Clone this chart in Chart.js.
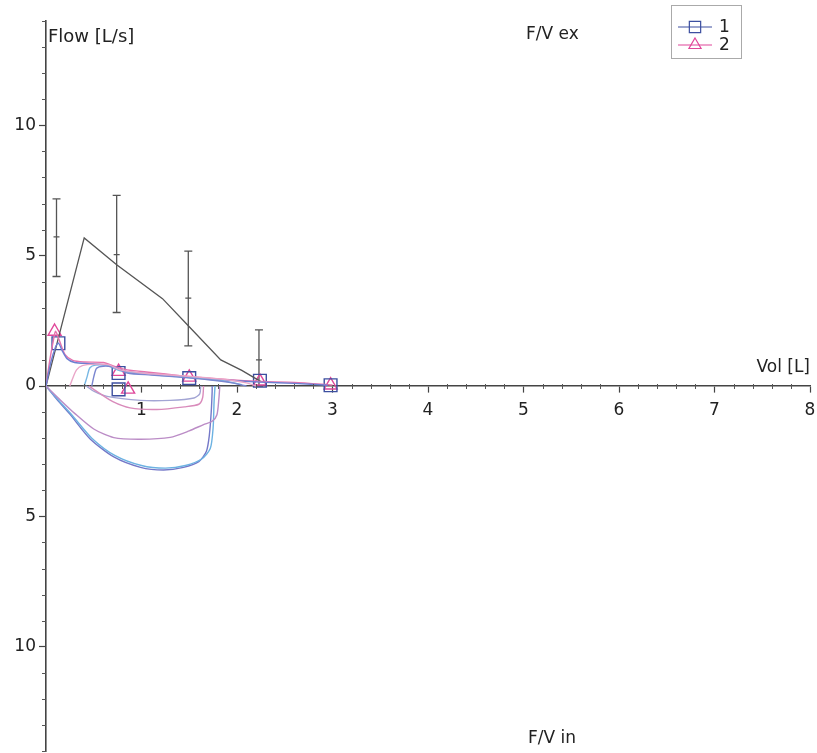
<!DOCTYPE html>
<html>
<head>
<meta charset="utf-8">
<script src="https://cdn.jsdelivr.net/npm/chart.js@4.4.1/dist/chart.umd.min.js"></script>
<style>
  html, body { margin: 0; padding: 0; background: #fff; }
  #fv { display: block; }
</style>
</head>
<body>
<canvas id="fv" width="817" height="753"></canvas>
<script>
// axis ticks
const xTicks = [1, 2, 3, 4, 5, 6, 7, 8];
const yTicks = [-10, -5, 0, 5, 10];

// predicted curve (black)
const predVol  = [0, 0.40, 0.74, 1.22, 1.48, 1.83, 2.05, 2.25];
const predFlow = [0, 5.68, 4.65, 3.35, 2.35, 1.00, 0.60, 0.17];

// predicted ranges (error bars)
const errVol  = [0.11, 0.74, 1.49, 2.23];
const errLow  = [4.20, 2.82, 1.54, 0.00];
const errMid  = [5.72, 5.04, 3.37, 1.00];
const errHigh = [7.18, 7.31, 5.17, 2.15];

// measured expiratory curves [vol, flow]
const ex1 = [[0,0],[0.05,0.9],[0.1,1.5],[0.13,1.65],[0.17,1.35],[0.22,1.05],[0.3,0.9],[0.45,0.86],[0.6,0.82],[0.72,0.68],[0.85,0.55],[1.1,0.46],[1.4,0.36],[1.7,0.27],[2.0,0.2],[2.25,0.15],[2.6,0.1],[2.95,0.03]];
const ex2 = [[0,0],[0.04,1.0],[0.08,1.8],[0.1,2.1],[0.14,1.75],[0.2,1.2],[0.28,0.98],[0.4,0.92],[0.6,0.9],[0.72,0.75],[0.85,0.62],[1.1,0.52],[1.4,0.4],[1.7,0.3],[2.0,0.22],[2.25,0.17],[2.6,0.14],[3.0,0.04]];
const ex3 = [[0.25,0],[0.28,0.3],[0.32,0.62],[0.38,0.78],[0.5,0.84],[0.65,0.82],[0.78,0.62],[1.0,0.5],[1.3,0.42],[1.6,0.34],[1.9,0.24],[2.1,0.12],[2.2,0]];
const ex4 = [[0.4,0],[0.43,0.35],[0.46,0.7],[0.52,0.8],[0.65,0.78],[0.78,0.58],[1.0,0.48],[1.3,0.38],[1.6,0.3],[1.85,0.2],[2.05,0.05]];
const ex5 = [[0.48,0],[0.5,0.35],[0.53,0.68],[0.6,0.76],[0.72,0.72],[0.85,0.5],[1.1,0.42],[1.4,0.34],[1.7,0.24],[1.95,0.12],[2.1,0]];

// measured inspiratory curves
const in1  = [[0,0],[0.1,-0.45],[0.25,-1.08],[0.46,-2.02],[0.71,-2.72],[0.99,-3.12],[1.23,-3.22],[1.44,-3.12],[1.6,-2.9],[1.68,-2.5],[1.71,-1.9],[1.73,-1.0],[1.74,-0.2],[1.74,0]];
const in1b = [[0,0],[0.12,-0.5],[0.28,-1.15],[0.48,-2.0],[0.72,-2.66],[1.0,-3.05],[1.25,-3.15],[1.46,-3.05],[1.63,-2.8],[1.72,-2.4],[1.75,-1.6],[1.76,-0.6],[1.77,0]];
const in2  = [[0,0],[0.14,-0.5],[0.3,-1.05],[0.5,-1.65],[0.71,-1.98],[0.99,-2.04],[1.3,-1.97],[1.5,-1.72],[1.65,-1.48],[1.74,-1.35],[1.79,-1.1],[1.81,-0.5],[1.82,0]];
const in3  = [[0.42,0],[0.5,-0.2],[0.64,-0.4],[0.99,-0.55],[1.3,-0.55],[1.55,-0.46],[1.61,-0.3],[1.62,0]];
const in4  = [[0.45,0],[0.55,-0.25],[0.7,-0.6],[0.88,-0.84],[1.16,-0.9],[1.45,-0.8],[1.6,-0.7],[1.64,-0.45],[1.65,0]];

// markers of trial 1 (squares) and trial 2 (triangles)
const sqVol   = [0.13, 0.76, 1.50, 2.24, 2.98, 0.76];
const sqFlow  = [1.64, 0.50, 0.30, 0.20, 0.03, -0.13];
const triVol  = [0.09, 0.76, 1.50, 2.24, 2.98, 0.86];
const triFlow = [2.09, 0.55, 0.33, 0.18, 0.03, -0.13];

const seriesNames = ['1', '2'];

const FONT = '"DejaVu Sans", Verdana, sans-serif';
const BLUE = '#3c4fa0';
const PINK = '#e0479a';

const pts = arr => arr.map(p => ({ x: p[0], y: p[1] }));
const zip = (xs, ys) => xs.map((x, i) => ({ x, y: ys[i] }));

function curve(data, color) {
  return {
    data: pts(data), showLine: true, borderColor: color, borderWidth: 1.4,
    pointRadius: 0, tension: 0.25, fill: false
  };
}

const datasets = [
  curve(in2, '#bb8cc6'),
  curve(in4, '#d98bbb'),
  curve(in3, '#a3a5d4'),
  curve(in1b, '#6cb2e2'),
  curve(in1, '#7478c8'),
  curve(ex3, '#eaa6c8'),
  curve(ex5, '#7a86d0'),
  curve(ex4, '#78b8e4'),
  curve(ex1, '#6d7fd2'),
  curve(ex2, '#e673ad'),
  {
    data: zip(predVol, predFlow), showLine: true, borderColor: '#555',
    borderWidth: 1.3, pointRadius: 0, tension: 0, fill: false
  },
  {
    data: zip(sqVol, sqFlow), showLine: false, pointStyle: 'rect', pointRadius: 9,
    pointBorderColor: BLUE, pointBackgroundColor: 'rgba(255,255,255,0)', pointBorderWidth: 1.4
  },
  {
    data: zip(triVol, triFlow), showLine: false, pointStyle: 'triangle', pointRadius: 7.5,
    pointBorderColor: PINK, pointBackgroundColor: 'rgba(255,255,255,0)', pointBorderWidth: 1.4
  }
];

const zeroPad = s => { s.paddingLeft = 0; s.paddingRight = 0; s.paddingTop = 0; s.paddingBottom = 0; };

const overlay = {
  id: 'overlay',
  beforeDatasetsDraw(chart) {
    const { ctx, scales: { x, y } } = chart;
    ctx.save();
    ctx.strokeStyle = '#555';
    ctx.lineWidth = 1.3;
    errVol.forEach((v, i) => {
      const px = x.getPixelForValue(v);
      const lo = y.getPixelForValue(errLow[i]);
      const hi = y.getPixelForValue(errHigh[i]);
      const md = y.getPixelForValue(errMid[i]);
      ctx.beginPath();
      ctx.moveTo(px, lo); ctx.lineTo(px, hi);
      ctx.moveTo(px - 4, lo); ctx.lineTo(px + 4, lo);
      ctx.moveTo(px - 4, hi); ctx.lineTo(px + 4, hi);
      ctx.moveTo(px - 3, md); ctx.lineTo(px + 3, md);
      ctx.stroke();
    });
    ctx.restore();
  },
  afterDraw(chart) {
    const { ctx, scales: { x, y } } = chart;
    const x0 = x.getPixelForValue(0);
    const y0 = y.getPixelForValue(0);
    ctx.save();
    // minor ticks
    ctx.strokeStyle = '#555';
    ctx.lineWidth = 1;
    ctx.beginPath();
    for (let v = -14; v <= 14; v++) {
      if (v % 5 === 0) continue;
      const py = Math.round(y.getPixelForValue(v)) + 0.5;
      ctx.moveTo(x0 - 4, py); ctx.lineTo(x0, py);
    }
    for (let k = 1; k <= 40; k++) {
      if (k % 5 === 0) continue;
      const px = Math.round(x.getPixelForValue(k / 5)) + 0.5;
      ctx.moveTo(px, y0 - 2); ctx.lineTo(px, y0 + 3);
    }
    ctx.stroke();

    // titles
    ctx.fillStyle = '#222';
    ctx.textBaseline = 'alphabetic';
    ctx.textAlign = 'left';
    ctx.font = '18px ' + FONT;
    ctx.fillText('Flow [L/s]', x0 + 2, 42);
    ctx.font = '17px ' + FONT;
    ctx.fillText('F/V ex', 526, 39);
    ctx.fillText('F/V in', 528, 743);
    ctx.textAlign = 'right';
    ctx.fillText('Vol [L]', x.getPixelForValue(8), y0 - 14);

    // legend
    ctx.strokeStyle = '#aaa';
    ctx.lineWidth = 1;
    ctx.strokeRect(671.5, 5.5, 70, 53);
    const entries = [
      { name: seriesNames[0], color: BLUE, style: 'rect', r: 8, cy: 27 },
      { name: seriesNames[1], color: PINK, style: 'triangle', r: 7, cy: 45 }
    ];
    entries.forEach(e => {
      ctx.strokeStyle = e.color;
      ctx.lineWidth = 1.2;
      ctx.beginPath();
      ctx.moveTo(678, e.cy); ctx.lineTo(712, e.cy);
      ctx.stroke();
      ctx.fillStyle = 'rgba(255,255,255,0)';
      Chart.helpers.drawPoint(ctx, { pointStyle: e.style, radius: e.r, borderWidth: 1.3, rotation: 0 }, 695, e.cy);
      ctx.fillStyle = '#222';
      ctx.textAlign = 'left';
      ctx.textBaseline = 'middle';
      ctx.font = '17px ' + FONT;
      ctx.fillText(e.name, 719, e.cy + 1);
    });
    ctx.restore();
  }
};

new Chart(document.getElementById('fv'), {
  type: 'scatter',
  data: { datasets },
  options: {
    responsive: false,
    animation: false,
    devicePixelRatio: 1,
    layout: { autoPadding: false, padding: { left: 0, right: 7, top: 21, bottom: 2 } },
    plugins: { legend: { display: false }, tooltip: { enabled: false } },
    scales: {
      x: {
        type: 'linear', min: 0, max: 8, position: { y: 0 },
        afterBuildTicks: s => { s.ticks = xTicks.map(v => ({ value: v })); },
        afterFit: zeroPad,
        ticks: { font: { family: FONT, size: 17 }, color: '#222', padding: 8, maxRotation: 0, autoSkip: false },
        grid: { drawOnChartArea: false, tickLength: 6, tickColor: '#444', tickWidth: 1.2 },
        border: { color: '#444', width: 1.6 }
      },
      y: {
        type: 'linear', min: -14, max: 14, position: 'left',
        afterBuildTicks: s => { s.ticks = yTicks.map(v => ({ value: v })); },
        afterFit: s => { zeroPad(s); s.width = 46; },
        ticks: { font: { family: FONT, size: 17 }, color: '#222', padding: 3, autoSkip: false, callback: v => Math.abs(v) },
        grid: { drawOnChartArea: false, tickLength: 7, tickColor: '#444', tickWidth: 1.2 },
        border: { color: '#444', width: 1.6 }
      }
    }
  },
  plugins: [overlay]
});
</script>
</body>
</html>
